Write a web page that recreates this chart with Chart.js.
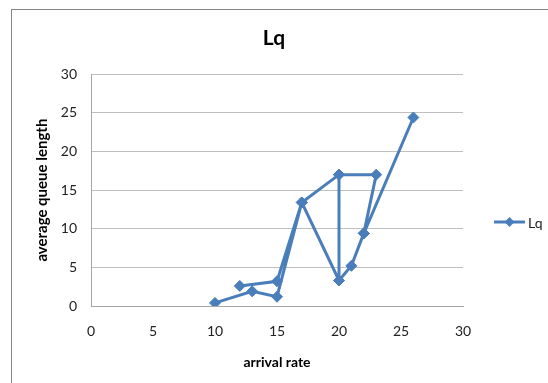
<!DOCTYPE html>
<html>
<head>
<meta charset="utf-8">
<script src="https://cdn.jsdelivr.net/npm/chart.js@4/dist/chart.umd.min.js"></script>
<style>
  html, body { margin: 0; padding: 0; background: #fff; overflow: hidden; }
  #wrap { position: relative; width: 548px; height: 383px; }
</style>
</head>
<body>
<div id="wrap"><canvas id="c" width="548" height="383"></canvas></div>
<script>
// Data (null entries break the line into separate strokes)
const arrivalRate    = [10, 13, 15, 17, 15, 12, null, 26, 22, 23, 20, 17, 20, 21, 22, null, 20, 20];
const avgQueueLength = [0.4, 1.9, 1.2, 13.4, 3.2, 2.6, null, 24.4, 9.4, 17.0, 17.0, 13.4, 3.3, 5.2, 9.4, null, 17.0, 3.3];
const seriesName = 'Lq';
const chartTitle = 'Lq';
const xTitle = 'arrival rate';
const yTitle = 'average queue length';
const axisMin = 0, axisMax = 30, axisStep = 5;

const BLUE = '#4a7ebb';
const FONT = 'Lato, "Liberation Sans", sans-serif';

const points = arrivalRate.map((x, i) => ({ x: x, y: avgQueueLength[i] }));

const frame = {
  id: 'frame',
  beforeDraw(chart) {
    const ctx = chart.ctx;
    ctx.save();
    ctx.fillStyle = '#fff';
    ctx.fillRect(0, 0, chart.width, chart.height);
    ctx.strokeStyle = '#868686';
    ctx.lineWidth = 1;
    ctx.strokeRect(11.5, 9.5, 700, 500);
    ctx.restore();
  }
};

const sideLegend = {
  id: 'sideLegend',
  afterDraw(chart) {
    const ds = chart.data.datasets[0];
    const ctx = chart.ctx;
    const y = 222, x0 = 494, x1 = 525;
    ctx.save();
    ctx.strokeStyle = ds.borderColor;
    ctx.lineWidth = 3;
    ctx.beginPath(); ctx.moveTo(x0, y); ctx.lineTo(x1, y); ctx.stroke();
    const cx = (x0 + x1) / 2, r = 5;
    ctx.fillStyle = ds.pointBackgroundColor;
    ctx.beginPath();
    ctx.moveTo(cx, y - r); ctx.lineTo(cx + r, y); ctx.lineTo(cx, y + r); ctx.lineTo(cx - r, y);
    ctx.closePath(); ctx.fill();
    ctx.fillStyle = '#222';
    ctx.font = '14px ' + FONT;
    ctx.textBaseline = 'middle';
    ctx.textAlign = 'left';
    ctx.fillText(ds.label, x1 + 3, y + 1);
    ctx.restore();
  }
};

new Chart(document.getElementById('c'), {
  type: 'scatter',
  data: {
    datasets: [{
      label: seriesName,
      data: points,
      showLine: true,
      spanGaps: false,
      borderColor: BLUE,
      backgroundColor: BLUE,
      pointBackgroundColor: BLUE,
      pointBorderColor: BLUE,
      borderWidth: 3,
      pointStyle: 'rectRot',
      pointRadius: 5.5,
      pointBorderWidth: 1,
      tension: 0
    }]
  },
  options: {
    responsive: false,
    animation: false,
    layout: { padding: { left: 0, right: 0, top: 0, bottom: 12 } },
    plugins: {
      legend: { display: false },
      tooltip: { enabled: false },
      title: {
        display: true,
        text: chartTitle,
        color: '#000',
        font: { family: FONT, size: 21, weight: 'bold' },
        padding: { top: 26, bottom: 23 }
      }
    },
    scales: {
      x: {
        type: 'linear',
        min: axisMin, max: axisMax,
        ticks: { stepSize: axisStep, color: '#222', font: { family: FONT, size: 14 }, padding: 17 },
        grid: { display: false, drawTicks: false },
        border: { display: true, color: '#a6a6a6', width: 1 },
        title: { display: true, text: xTitle, color: '#000', font: { family: FONT, size: 14, weight: 'bold' }, padding: { top: 0, bottom: 0 } },
        afterFit(scale) { scale.height = 65; }
      },
      y: {
        type: 'linear',
        min: axisMin, max: axisMax,
        ticks: { stepSize: axisStep, color: '#222', font: { family: FONT, size: 14 }, padding: 14 },
        grid: { display: true, drawTicks: false, color: '#bfbfbf', lineWidth: 1 },
        border: { display: true, color: '#a6a6a6', width: 1 },
        title: { display: true, text: yTitle, color: '#000', font: { family: FONT, size: 15, weight: 'bold' }, padding: { top: 33, bottom: 0 } },
        afterFit(scale) { scale.width = 91; }
      },
      legendSpace: {
        type: 'linear',
        position: 'right',
        display: true,
        min: 0, max: 1,
        ticks: { display: false },
        grid: { display: false, drawTicks: false },
        border: { display: false },
        afterFit(scale) { scale.width = 85; }
      }
    }
  },
  plugins: [frame, sideLegend]
});
</script>
</body>
</html>
